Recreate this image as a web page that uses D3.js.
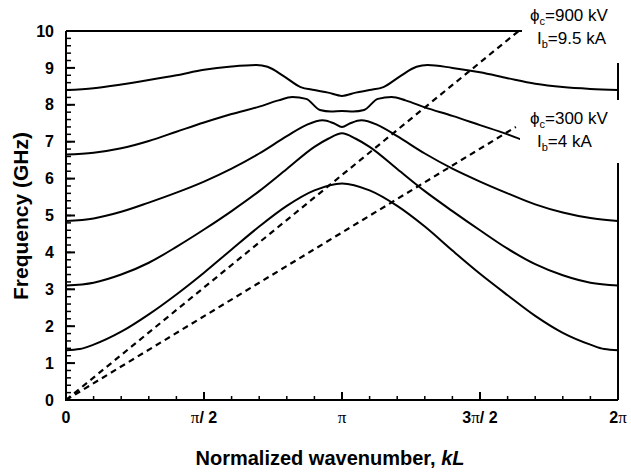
<!DOCTYPE html>
<html>
<head>
<meta charset="utf-8">
<script src="https://cdnjs.cloudflare.com/ajax/libs/d3/7.8.5/d3.min.js"></script>
<style>
body { margin: 0; background: white; }
svg { font-family: 'Liberation Sans', Arial, sans-serif; }
</style>
</head>
<body>
<svg width="631" height="472"></svg>
<script>
// kL given in units of pi, frequency in GHz
const mode1 = [[0,1.35],[0.05,1.38],[0.1,1.5],[0.2,1.85],[0.3,2.32],[0.4,2.86],[0.5,3.45],[0.6,4.08],[0.7,4.7],[0.8,5.26],[0.9,5.68],[1.0,5.87],
  [1.1,5.68],[1.2,5.26],[1.3,4.7],[1.4,4.05],[1.5,3.42],[1.6,2.84],[1.7,2.28],[1.8,1.82],[1.9,1.5],[1.95,1.38],[2.0,1.35]]
const mode2 = [[0,3.1],[0.1,3.18],[0.2,3.4],[0.3,3.72],[0.4,4.15],[0.5,4.62],[0.6,5.12],[0.7,5.66],[0.8,6.26],[0.9,6.86],[0.95,7.08],[1.0,7.23],
  [1.05,7.08],[1.1,6.86],[1.2,6.26],[1.3,5.66],[1.4,5.12],[1.5,4.6],[1.6,4.1],[1.7,3.68],[1.8,3.38],[1.9,3.18],[2.0,3.1]]
const mode3 = [[0,4.85],[0.1,4.92],[0.2,5.1],[0.3,5.35],[0.4,5.62],[0.5,5.92],[0.6,6.27],[0.7,6.68],[0.8,7.15],[0.87,7.45],[0.93,7.58],[0.97,7.5],[1.0,7.4],
  [1.03,7.5],[1.07,7.58],[1.13,7.45],[1.2,7.15],[1.3,6.68],[1.4,6.27],[1.5,5.92],[1.6,5.6],[1.7,5.3],[1.8,5.08],[1.9,4.93],[2.0,4.85]]
const mode4 = [[0,6.65],[0.1,6.7],[0.2,6.82],[0.3,7.02],[0.4,7.27],[0.5,7.52],[0.6,7.75],[0.7,7.95],[0.77,8.12],[0.82,8.21],[0.87,8.16],[0.92,7.86],[0.96,7.82],[1.0,7.83],
  [1.04,7.82],[1.08,7.86],[1.13,8.16],[1.18,8.21],[1.23,8.12],[1.3,7.93],[1.4,7.7],[1.5,7.45],[1.6,7.2],[1.652,7.05]]
const mode5 = [[0,8.4],[0.1,8.45],[0.2,8.55],[0.3,8.67],[0.4,8.8],[0.5,8.95],[0.6,9.04],[0.69,9.08],[0.73,9.03],[0.79,8.77],[0.85,8.48],[0.9,8.4],[0.95,8.33],[1.0,8.24],
  [1.05,8.33],[1.1,8.4],[1.15,8.48],[1.21,8.77],[1.27,9.03],[1.31,9.08],[1.4,9.0],[1.5,8.88],[1.6,8.72],[1.7,8.57],[1.8,8.48],[1.9,8.43],[2.0,8.4]]
const modes = [mode1, mode2, mode3, mode4, mode5]

// beam lines
const beam900 = [[0,0],[1.64,10]]
const beam300 = [[0,0],[1.63,7.4]]

const kTicks = [0, 0.5, 1, 1.5, 2]
const kTickLabels = [['0'], ['π', '/ 2'], ['π'], ['3', 'π', '/ 2'], ['2', 'π']]
const kMinor = d3.range(0, 21).map(i => i / 10)
const fTicks = d3.range(0, 11)
const fMinor = d3.range(0, 51).map(i => i / 5)

const svg = d3.select('svg')
const x = d3.scaleLinear().domain([0, 2]).range([66, 618])
const y = d3.scaleLinear().domain([0, 10]).range([400, 31])

// frame
const frame = svg.append('g').attr('stroke', 'black').attr('stroke-width', 2)
frame.append('line').attr('x1', x(0)).attr('x2', x(2)).attr('y1', y(10)).attr('y2', y(10))
frame.append('line').attr('x1', x(2)).attr('x2', x(2)).attr('y1', y(10)).attr('y2', y(0))
frame.append('line').attr('x1', x(0) - 1).attr('x2', x(2)).attr('y1', y(0)).attr('y2', y(0))
frame.append('line').attr('x1', x(0)).attr('x2', x(0)).attr('y1', y(10)).attr('y2', y(0) + 1)

// y tick labels
svg.append('g').selectAll('text').data(fTicks).enter().append('text')
  .attr('x', x(0) - 12).attr('y', d => y(d)).attr('dy', '0.35em')
  .attr('text-anchor', 'end').attr('font-size', 16).attr('font-weight', 'bold')
  .text(d => d)

// x tick labels with pi symbol
kTicks.forEach((k, i) => {
  const t = svg.append('text').attr('x', x(k)).attr('y', 423)
    .attr('text-anchor', 'middle').attr('font-size', 16).attr('font-weight', 'bold')
  kTickLabels[i].forEach(part => {
    const s = t.append('tspan').text(part)
    if (part === 'π') s.attr('font-family', "'Liberation Serif', serif").attr('font-weight', 'normal').attr('font-size', 17)
  })
})

// dispersion curves
const line = d3.line().x(d => x(d[0])).y(d => y(d[1])).curve(d3.curveMonotoneX)
svg.append('g').selectAll('path').data(modes).enter().append('path')
  .attr('d', line).attr('fill', 'none').attr('stroke', 'black').attr('stroke-width', 2)

svg.append('g').selectAll('path').data([beam900, beam300]).enter().append('path')
  .attr('d', d3.line().x(d => x(d[0])).y(d => y(d[1])))
  .attr('fill', 'none').attr('stroke', 'black').attr('stroke-width', 2.2).attr('stroke-dasharray', '6,4.5')

// ticks pointing inward
const tk = svg.append('g')
tk.selectAll('line.xm').data(kMinor).enter().append('line').attr('class', 'xm')
  .attr('x1', d => x(d)).attr('x2', d => x(d)).attr('y1', y(0)).attr('y2', y(0) - 4)
  .attr('stroke', 'black').attr('stroke-width', 1.5)
tk.selectAll('line.xM').data(kTicks).enter().append('line').attr('class', 'xM')
  .attr('x1', d => x(d)).attr('x2', d => x(d)).attr('y1', y(0)).attr('y2', y(0) - 8)
  .attr('stroke', 'black').attr('stroke-width', 2)
tk.selectAll('line.ym').data(fMinor).enter().append('line').attr('class', 'ym')
  .attr('x1', x(0)).attr('x2', x(0) + 5).attr('y1', d => y(d)).attr('y2', d => y(d))
  .attr('stroke', 'black').attr('stroke-width', 1.5)
tk.selectAll('line.yM').data(fTicks).enter().append('line').attr('class', 'yM')
  .attr('x1', x(0)).attr('x2', x(0) + 9).attr('y1', d => y(d)).attr('y2', d => y(d))
  .attr('stroke', 'black').attr('stroke-width', 2)

// label boxes
svg.append('rect').attr('x', 522).attr('y', 0).attr('width', 109).attr('height', 63).attr('fill', 'white')
svg.append('rect').attr('x', 520).attr('y', 100).attr('width', 111).attr('height', 63).attr('fill', 'white')

function beamLabel(xp, yp, phi, cur) {
  const t1 = svg.append('text').attr('x', xp).attr('y', yp).attr('font-size', 17)
  t1.append('tspan').text('ϕ')
  t1.append('tspan').text('c').attr('font-size', 11).attr('dy', 4)
  t1.append('tspan').text('=' + phi + ' kV').attr('dy', -4)
  const t2 = svg.append('text').attr('x', xp + 7).attr('y', yp + 23).attr('font-size', 17)
  t2.append('tspan').text('I')
  t2.append('tspan').text('b').attr('font-size', 11).attr('dy', 4)
  t2.append('tspan').text('=' + cur + ' kA').attr('dy', -4)
}
beamLabel(530, 21, '900', '9.5')
beamLabel(530, 124, '300', '4')

// axis titles
svg.append('text').attr('transform', 'translate(28,216) rotate(-90)')
  .attr('text-anchor', 'middle').attr('font-size', 21).attr('font-weight', 'bold')
  .text('Frequency (GHz)')
const xt = svg.append('text').attr('x', 330).attr('y', 465)
  .attr('text-anchor', 'middle').attr('font-size', 20).attr('font-weight', 'bold')
xt.append('tspan').text('Normalized wavenumber, ')
xt.append('tspan').text('kL').attr('font-style', 'italic')
</script>
</body>
</html>
